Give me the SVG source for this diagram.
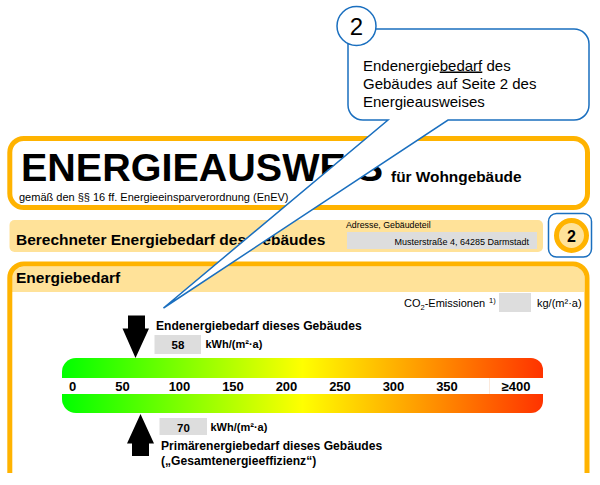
<svg xmlns="http://www.w3.org/2000/svg" width="600" height="485" viewBox="0 0 600 485">
<style>
text{font-family:"Liberation Sans",Arial,sans-serif;fill:#000}
.b{font-weight:bold}
.o{fill:none;stroke:#FFB300;stroke-width:5}
.band{fill:#FFE299}
.g{fill:#DDDDDD}
.t{font-weight:bold;font-size:13px;text-anchor:middle}
.c{fill:#fff;stroke:#1A6FBF;stroke-width:1.5}
.l{font-size:15px}
</style>
<defs>
<linearGradient id="sc" gradientUnits="userSpaceOnUse" x1="62" y1="0" x2="543" y2="0">
<stop offset="0" stop-color="#00FF00"/><stop offset="0.5" stop-color="#FFFF00"/><stop offset="1" stop-color="#FF3300"/>
</linearGradient>
</defs>
<rect width="600" height="485" fill="#fff"/>
<g id="title">
<rect class="o" x="9.800" y="138.500" width="577.700" height="69" rx="14"/>
<text class="b" x="21" y="181" font-size="39.500">ENERGIEAUSWEIS</text>
<text class="b" x="391" y="182" font-size="15.400">für Wohngebäude</text>
<text x="19" y="201" font-size="11">gemäß den §§ 16 ff. Energieeinsparverordnung (EnEV)</text>
</g>
<g id="heading">
<rect class="band" x="9.500" y="220" width="533.500" height="32" rx="5"/>
<text class="b" x="16" y="245" font-size="15.500">Berechneter Energiebedarf des Gebäudes</text>
<text x="346" y="228" font-size="8.800">Adresse, Gebäudeteil</text>
<rect class="g" x="347" y="232" width="190" height="17"/>
<text x="529" y="244.500" font-size="9" text-anchor="end">Musterstraße 4, 64285 Darmstadt</text>
</g>
<g id="page-badge">
<rect x="548.500" y="213.500" width="43" height="43.500" rx="8" fill="#fff" stroke="#1A6FBF" stroke-width="1.500"/>
<circle cx="571.500" cy="235.500" r="15" class="band" stroke="#FFB300" stroke-width="5"/>
<text class="b" x="571.500" y="241.500" font-size="16" text-anchor="middle">2</text>
</g>
<g id="panel">
<path class="band" d="M12 292V276a9 9 0 0 1 9-9H576a8 8 0 0 1 8 8V292Z"/>
<path class="o" d="M9.800 473V278a14 14 0 0 1 14-14H573a14 14 0 0 1 14 14V473"/>
<text class="b" x="16" y="283" font-size="15.500">Energiebedarf</text>
<text x="404" y="307" font-size="11">CO<tspan font-size="7.500" dy="2.500">2</tspan><tspan dy="-2.500">-Emissionen</tspan></text>
<text x="489" y="303" font-size="7.500">1)</text>
<rect class="g" x="499" y="293" width="32" height="19"/>
<text x="537" y="307" font-size="11">kg/(m²·a)</text>
</g>
<g id="scale">
<path fill="url(#sc)" d="M62 378V372a14 14 0 0 1 14-14H531a12 12 0 0 1 12 12V378Z"/>
<path fill="url(#sc)" d="M62 394V399a14 14 0 0 0 14 14H531a12 12 0 0 0 12-12V394Z"/>
<line x1="489.500" y1="378" x2="489.500" y2="394" stroke="#FBE9DC"/>
<text class="t" x="72.500" y="391">0</text>
<text class="t" x="122.500" y="391">50</text>
<text class="t" x="179.500" y="391">100</text>
<text class="t" x="233" y="391">150</text>
<text class="t" x="286.500" y="391">200</text>
<text class="t" x="340" y="391">250</text>
<text class="t" x="393.500" y="391">300</text>
<text class="t" x="447" y="391">350</text>
<text class="t" x="516" y="391">≥400</text>
</g>
<g id="final-energy">
<path d="M128 315.500H145V328.500H149L135.500 358L122.500 328.500H128Z"/>
<text class="b" x="156" y="330" font-size="12.100">Endenergiebedarf dieses Gebäudes</text>
<rect class="g" x="154.500" y="335" width="46.500" height="19"/>
<text class="b" x="178" y="349" font-size="11.500" text-anchor="middle">58</text>
<text class="b" x="205.500" y="348" font-size="11">kWh/(m²·a)</text>
</g>
<g id="primary-energy">
<path d="M140.500 414L154 443.500H149V456H132V443.500H127Z"/>
<rect class="g" x="159.500" y="418" width="47.500" height="17"/>
<text class="b" x="183.500" y="432" font-size="11.500" text-anchor="middle">70</text>
<text class="b" x="210.500" y="431" font-size="11">kWh/(m²·a)</text>
<text class="b" x="161" y="450" font-size="12.100">Primärenergiebedarf dieses Gebäudes</text>
<text class="b" x="161" y="465" font-size="12.100">(„Gesamtenergieeffizienz“)</text>
</g>
<g id="callout">
<path class="c" d="M348 44A15 15 0 0 1 363 29H574A15 15 0 0 1 589 44V105A15 15 0 0 1 574 120H448L163.500 308L388 120H363A15 15 0 0 1 348 105Z"/>
<circle class="c" cx="356.500" cy="26" r="19.500"/>
<text x="356.500" y="35" font-size="24" text-anchor="middle">2</text>
<text class="l" x="363" y="70.500">Endenergie<tspan text-decoration="underline">bedarf</tspan> des</text>
<text class="l" x="363" y="88.500">Gebäudes auf Seite 2 des</text>
<text class="l" x="363" y="106.500">Energieausweises</text>
</g>
</svg>
